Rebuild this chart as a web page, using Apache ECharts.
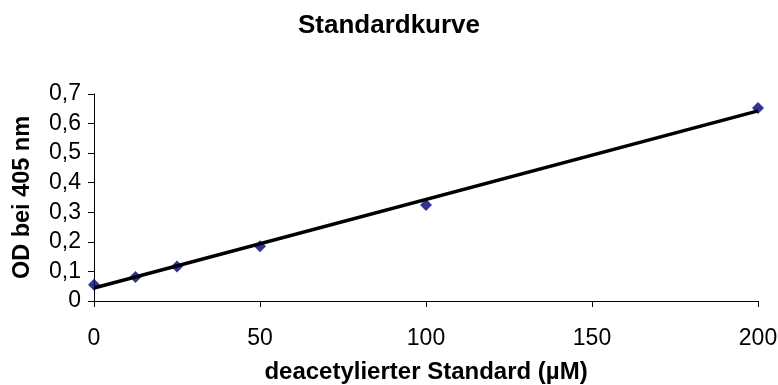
<!DOCTYPE html>
<html>
<head>
<meta charset="utf-8">
<script src="https://cdn.jsdelivr.net/npm/echarts@6/dist/echarts.min.js"></script>
<style>html,body{margin:0;padding:0;background:#fff}#c{width:778px;height:385px}</style>
</head>
<body>
<div id="c"></div>
<script>
const concentrations = [0, 12.5, 25, 50, 100, 200];
const odValues = [0.055, 0.081, 0.117, 0.185, 0.325, 0.653];
const trendX = [0, 200];
const trendY = [0.044, 0.643];
const yTicks = [0, 0.1, 0.2, 0.3, 0.4, 0.5, 0.6, 0.7];
const xTicks = [0, 50, 100, 150, 200];

const chart = echarts.init(document.getElementById('c'));
const font = 'Liberation Sans, Arial, sans-serif';
chart.setOption({
  animation: false,
  title: {
    text: 'Standardkurve', left: 'center', top: 8,
    textStyle: { fontFamily: font, fontWeight: 'bold', fontSize: 26, color: '#000' }
  },
  grid: { left: 94, right: 20, top: 94, bottom: 84, containLabel: false, outerBoundsMode: 'none' },
  xAxis: {
    type: 'value', min: xTicks[0], max: xTicks[xTicks.length - 1], interval: 50,
    name: 'deacetylierter Standard (µM)', nameLocation: 'middle', nameGap: 59, nameMoveOverlap: false,
    nameTextStyle: { fontFamily: font, fontWeight: 'bold', fontSize: 24, color: '#000' },
    axisLine: { lineStyle: { color: '#000', width: 1 } },
    axisTick: { show: true, length: 6, lineStyle: { color: '#000' } },
    axisLabel: { fontFamily: font, fontSize: 23, color: '#000', margin: 26 },
    splitLine: { show: false }
  },
  yAxis: {
    type: 'value', min: yTicks[0], max: yTicks[yTicks.length - 1], interval: 0.1,
    name: 'OD bei 405 nm', nameLocation: 'middle', nameGap: 59, nameRotate: 90, nameMoveOverlap: false,
    nameTextStyle: { fontFamily: font, fontWeight: 'bold', fontSize: 23.5, color: '#000' },
    axisLine: { show: true, lineStyle: { color: '#000', width: 1 } },
    axisTick: { show: true, length: 6, lineStyle: { color: '#000' } },
    axisLabel: { fontFamily: font, fontSize: 23, color: '#000', margin: 13,
      formatter: v => (Math.round(v * 10) / 10).toString().replace('.', ',') },
    splitLine: { show: false }
  },
  series: [
    {
      type: 'line', data: trendX.map((x, i) => [x, trendY[i]]),
      showSymbol: false, symbol: 'none', z: 3,
      lineStyle: { color: '#000', width: 3.5 }
    },
    {
      type: 'scatter', data: concentrations.map((x, i) => [x, odValues[i]]),
      symbol: 'diamond', symbolSize: 12, z: 2,
      itemStyle: { color: '#00007a' }
    }
  ]
});
</script>
</body>
</html>
